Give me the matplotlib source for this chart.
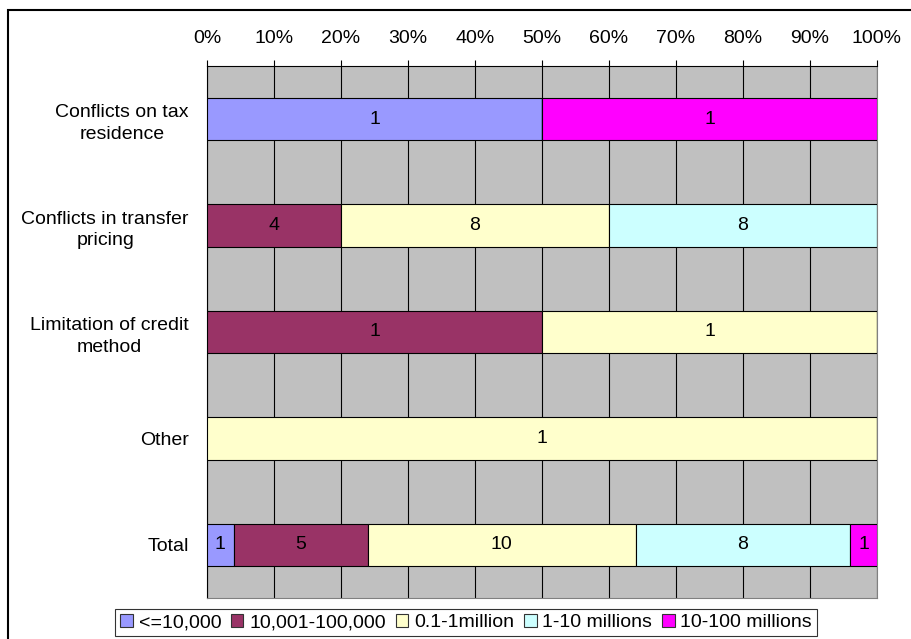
import matplotlib.pyplot as plt
from matplotlib.patches import Rectangle
import numpy as np

plt.rcParams['font.family'] = ['Liberation Sans', 'DejaVu Sans']

categories = ['Conflicts on tax\nresidence', 'Conflicts in transfer\npricing',
              'Limitation of credit\nmethod', 'Other', 'Total']
series = ['<=10,000', '10,001-100,000', '0.1-1million', '1-10 millions', '10-100 millions']
counts = {
    '<=10,000':        [1, 0, 0, 0, 1],
    '10,001-100,000':  [0, 4, 1, 0, 5],
    '0.1-1million':    [0, 8, 1, 1, 10],
    '1-10 millions':   [0, 8, 0, 0, 8],
    '10-100 millions': [1, 0, 0, 0, 1],
}
colors = ['#9999FF', '#993366', '#FFFFCC', '#CCFFFF', '#FF00FF']
xticks = np.arange(0, 101, 10)
FS = 14

fig = plt.figure(figsize=(9.12, 6.39), dpi=100)
ax = fig.add_axes([207 / 912, 1 - 598 / 639, 670 / 912, 532 / 639])

# outer chart border (runs off the right/bottom edge like the original)
fig.patches.append(Rectangle((8 / 912, -0.1), 1.2, 1 - 10 / 639 + 0.1,
                             transform=fig.transFigure, fill=False,
                             edgecolor='black', linewidth=1.5, zorder=0))

y = np.arange(len(categories))
totals = np.sum([counts[s] for s in series], axis=0)
left = np.zeros(len(categories))
for s, c in zip(series, colors):
    vals = np.array(counts[s], dtype=float)
    pct = vals / totals * 100
    ax.barh(y, pct, left=left, height=0.4, color=c, edgecolor='black',
            linewidth=0.8, label=s, zorder=3)
    for i, (v, p) in enumerate(zip(vals, pct)):
        if v > 0:
            ax.text(left[i] + p / 2, y[i], f'{int(v)}', ha='center', va='center',
                    fontsize=FS, zorder=4)
    left += pct

ax.set_facecolor('#C0C0C0')
ax.set_xlim(0, 100)
ax.set_ylim(len(categories) - 0.5, -0.5)
ax.set_xticks(xticks)
ax.set_xticklabels([f'{t}%' for t in xticks], fontsize=FS)
ax.xaxis.tick_top()
ax.tick_params(axis='x', direction='out', length=4, width=0.8, pad=10)
ax.set_yticks(y)
ax.set_yticklabels(categories, fontsize=FS, multialignment='center', linespacing=1.35)
ax.tick_params(axis='y', length=0, pad=13)
ax.grid(axis='x', color='black', linewidth=0.8, zorder=1)
ax.set_axisbelow(True)
for side in ['right', 'bottom']:
    ax.spines[side].set_color('#808080')
for side in ['left', 'top']:
    ax.spines[side].set_color('black')

leg = fig.legend(loc='upper center', bbox_to_anchor=(0.511, 1 - 609 / 639), ncol=5,
                 fontsize=FS, frameon=True, fancybox=False, edgecolor='black',
                 handlelength=0.65, handleheight=0.65, handletextpad=0.3,
                 columnspacing=0.5, borderpad=0.25, borderaxespad=0)
leg.get_frame().set_linewidth(0.8)
for h in leg.legend_handles:
    h.set_edgecolor('#333333')
    h.set_linewidth(0.8)

fig.savefig('out.png', dpi=100)
